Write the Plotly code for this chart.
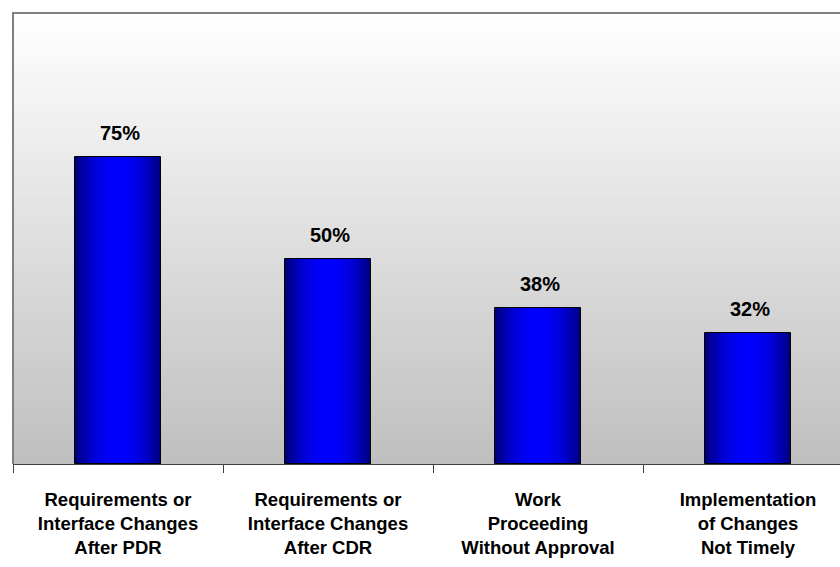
import math
import plotly.graph_objects as go

categories = [
    "Requirements or<br>Interface Changes<br>After PDR",
    "Requirements or<br>Interface Changes<br>After CDR",
    "Work<br>Proceeding<br>Without Approval",
    "Implementation<br>of Changes<br>Not Timely",
]
values = [75, 50, 38, 32]
value_labels = ["75%", "50%", "38%", "32%"]

FONT = "Liberation Sans, Arial, sans-serif"
BAR_W = 0.41
N_SLICES = 28


def lerp(a, b, t):
    return tuple(round(a[i] + (b[i] - a[i]) * t) for i in range(3))


fig = go.Figure()

# horizontal gradient for the bars, built from overlaid bar slices
dark = (0, 0, 110)
bright = (0, 0, 255)
step = BAR_W / N_SLICES
for i in range(N_SLICES):
    t = (i + 0.5) / N_SLICES
    f = math.sin(math.pi * t) ** 0.8
    c = lerp(dark, bright, f)
    w = min(step * 1.6, BAR_W - i * step)
    fig.add_trace(go.Bar(
        x=categories, y=values,
        width=[w] * len(values),
        offset=[-BAR_W / 2 + i * step] * len(values),
        marker=dict(color="rgb(%d,%d,%d)" % c, line=dict(width=0)),
        hoverinfo="skip", showlegend=False,
    ))

# outline
fig.add_trace(go.Bar(
    x=categories, y=values,
    width=[BAR_W] * len(values),
    offset=[-BAR_W / 2] * len(values),
    marker=dict(color="rgba(0,0,0,0)", line=dict(color="black", width=1)),
    showlegend=False,
))

# vertical gradient background of the plot area
shapes = []
NB = 90
top = (255, 255, 255)
bottom = (191, 191, 191)
for i in range(NB):
    y1 = 1 - i / NB
    y0 = 1 - (i + 1.3) / NB
    c = lerp(top, bottom, (i + 0.5) / NB)
    shapes.append(dict(type="rect", xref="paper", yref="paper",
                       x0=0, x1=1, y0=max(y0, 0), y1=y1,
                       fillcolor="rgb(%d,%d,%d)" % c, line=dict(width=0),
                       layer="below"))
# top and left border
shapes.append(dict(type="path", xref="paper", yref="paper",
                   path="M 0 0 L 0 1 L 1.01 1",
                   line=dict(color="#808080", width=2), layer="above"))

annotations = []
for cat, v, lab in zip(categories, values, value_labels):
    annotations.append(dict(x=cat, y=v, xref="x", yref="y", text=lab,
                            showarrow=False, yanchor="middle", yshift=24, xshift=2,
                            font=dict(family=FONT, size=20, color="black", weight="bold")))

fig.update_layout(
    width=840, height=567,
    margin=dict(l=13, r=0, t=13, b=103),
    paper_bgcolor="white", plot_bgcolor="white",
    barmode="overlay", bargap=0,
    shapes=shapes, annotations=annotations,
    showlegend=False,
    xaxis=dict(type="category", range=[-0.5, -0.5 + 827 / 210],
               showgrid=False, zeroline=False,
               showline=True, linecolor="#404040", linewidth=1,
               ticks="outside", tickson="boundaries", ticklen=8,
               tickcolor="#404040", tickwidth=1,
               ticklabelstandoff=19,
               tickfont=dict(family=FONT, size=18.5, color="black", weight="bold"),
               fixedrange=True),
    yaxis=dict(range=[0, 110], showgrid=False, zeroline=False,
               showticklabels=False, ticks="", showline=False, fixedrange=True),
)

fig.write_html("out.html")
